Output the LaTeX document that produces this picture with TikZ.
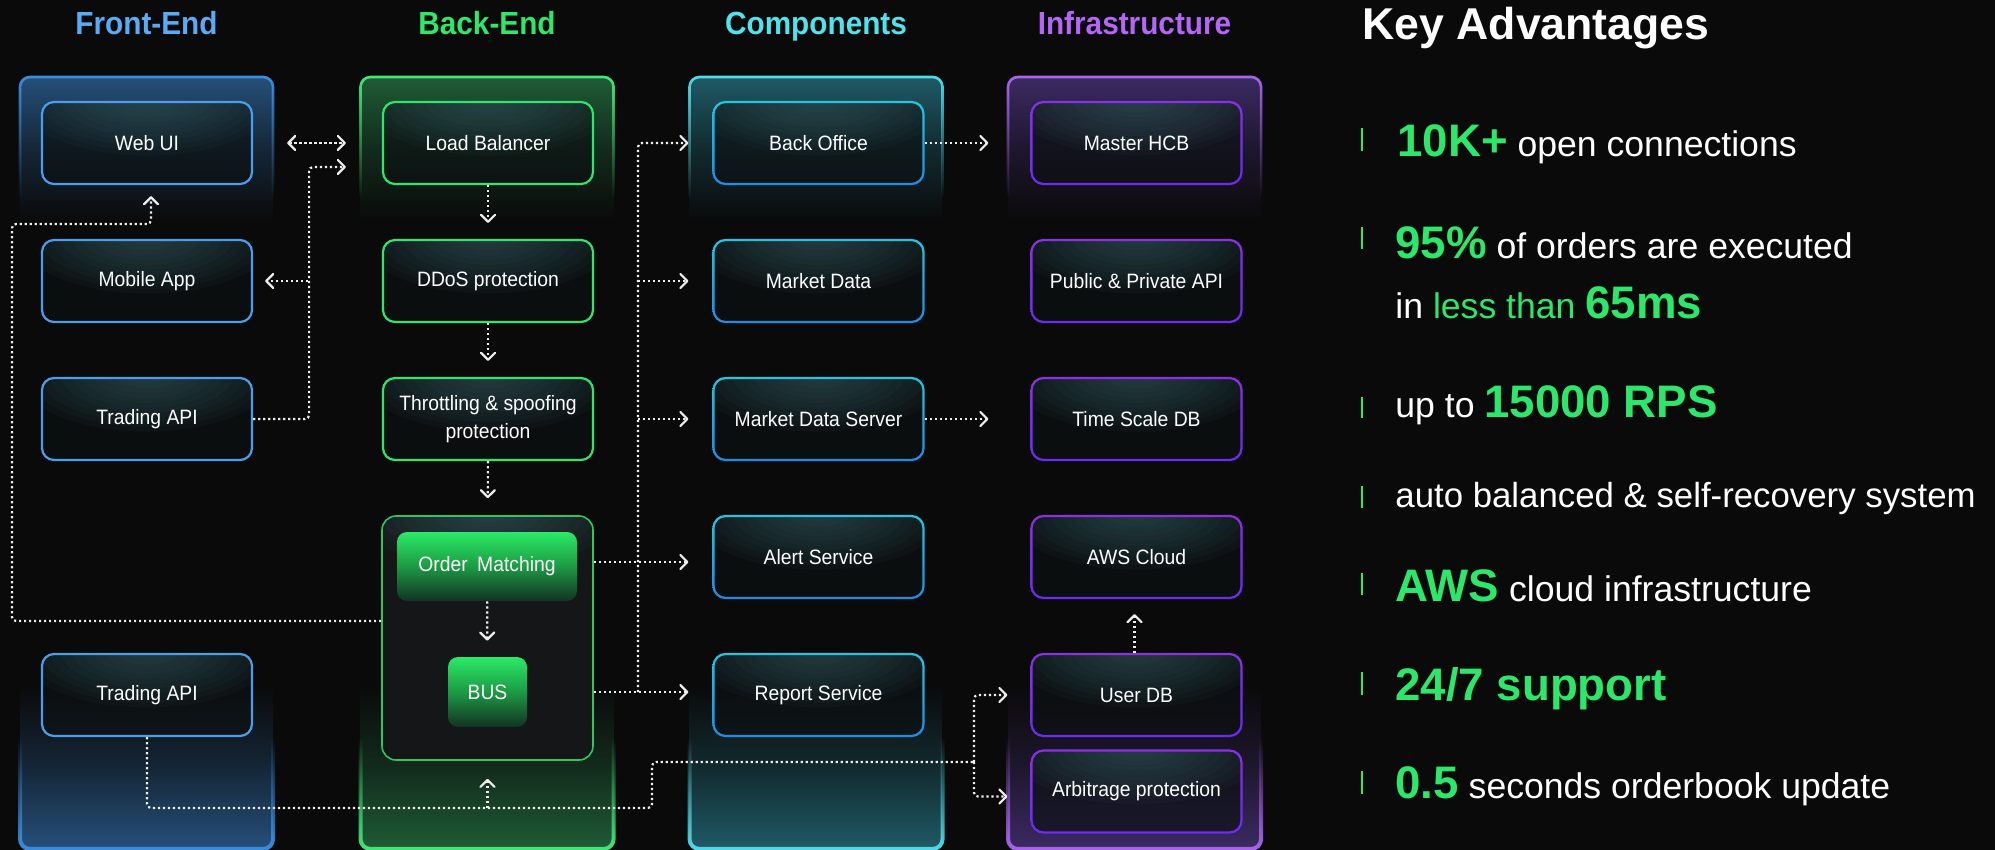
\documentclass[tikz,border=0pt]{standalone}
\usepackage{fontspec}
\setmainfont{Liberation Sans}
\newfontfamily\condfont{Liberation Sans}[FakeStretch=0.93]
\usetikzlibrary{arrows.meta,calc,fadings}
\definecolor{bg}{HTML}{0A0A0A}
\definecolor{gr}{HTML}{2CE86A}
\definecolor{boxfill}{HTML}{0C1113}
\definecolor{glowc}{HTML}{3A646A}
\definecolor{feT}{HTML}{5AABF5}
\definecolor{beT}{HTML}{2EE86A}
\definecolor{coT}{HTML}{4FE3EC}
\definecolor{inT}{HTML}{B565F7}
\definecolor{feB}{HTML}{4A9EEB}
\definecolor{beB}{HTML}{30E56C}
\definecolor{coBa}{HTML}{22C6E0}
\definecolor{coBb}{HTML}{1E8CE8}
\definecolor{inBa}{HTML}{8C2FE6}
\definecolor{inBb}{HTML}{6A2CF5}
\definecolor{feP}{HTML}{25507A}
\definecolor{feE}{HTML}{3C8EDE}
\definecolor{beP}{HTML}{1F5C36}
\definecolor{beE}{HTML}{44E87A}
\definecolor{coP}{HTML}{1F5A66}
\definecolor{coE}{HTML}{52DCEA}
\definecolor{inP}{HTML}{3B2A62}
\definecolor{inE}{HTML}{A966F0}
\definecolor{arrw}{HTML}{EDEDED}
\definecolor{omcfill}{HTML}{141617}
\definecolor{omb}{HTML}{28C95E}
\definecolor{ga}{HTML}{2BEA66}
\definecolor{gb}{HTML}{1C9A44}
\definecolor{gc}{HTML}{123222}
\tikzfading[name=fadedown, top color=transparent!0, bottom color=transparent!100]
\tikzfading[name=fadeup, top color=transparent!100, bottom color=transparent!0]
\newcommand\advbold[1]{{\color{gr}\fontsize{22.8}{27}\selectfont\bfseries #1}}
\newcommand\glowat[1]{\foreach \k in {1,...,12}{\fill[glowc, fill opacity=0.065] ([yshift=2pt]#1) ellipse ({\k*5.4pt} and {\k*2.4pt});}}
\begin{document}
\begin{tikzpicture}[x=0.5pt,y=-0.5pt,
  panel/.style={minimum width=126.5pt, minimum height=386pt, inner sep=0pt, outer sep=0pt,
    rounded corners=5pt, fill=bg},
  box/.style={minimum width=105pt, minimum height=41pt, inner sep=0pt, rounded corners=6pt,
    line width=1.1pt, fill=boxfill, fill opacity=0.65, text opacity=1, text=white,
    font=\condfont\fontsize{10.4}{14}\selectfont, align=center,
    path picture={\glowat{path picture bounding box.north}}},
  febox/.style={box, draw=feB},
  bebox/.style={box, draw=beB},
  title/.style={anchor=base, inner sep=0pt, font=\condfont\bfseries\fontsize{16}{19}\selectfont},
  conn/.style={draw=arrw, line width=1.1pt, dash pattern=on 1.1pt off 1.4pt, rounded corners=2pt},
  arr/.style={-{Straight Barb[length=3.5pt,width=7pt,round]}},
  gbox/.style={inner sep=0pt, rounded corners=5pt, top color=ga, bottom color=gc, middle color=gb,
    text=white, font=\condfont\fontsize{10.4}{14}\selectfont},
  adv/.style={anchor=base west, inner sep=0pt, text=white, font=\fontsize{17.8}{21}\selectfont},
  bar/.style={draw=gr, line width=1.2pt}
]
\fill[bg] (0,0) rectangle (1995,850);
\useasboundingbox (0,0) rectangle (1995,850);

% titles
\node[title, text=feT] (tfe) at (146.5,35) {Front-End};
\node[title, text=beT] (tbe) at (487,35) {Back-End};
\node[title, text=coT] (tco) at (816,35) {Components};
\node[title, text=inT] (tin) at (1134.5,35) {Infrastructure};

% panels
\node[panel] (fe) at (146.5,463) {};
\node[panel] (be) at (487,463) {};
\node[panel] (co) at (816,463) {};
\node[panel] (inf) at (1134.5,463) {};
\foreach \p/\pc/\ec in {fe/feP/feE, be/beP/beE, co/coP/coE, inf/inP/inE} {
  \begin{scope}
    \clip[rounded corners=5pt] (\p.south west) rectangle (\p.north east);
    \fill[top color=\pc, bottom color=bg, middle color=\pc!40!bg] (\p.north west) rectangle ([yshift=-72pt]\p.north east);
    \fill[top color=bg, bottom color=\pc, middle color=\pc!40!bg] ([yshift=82pt]\p.south west) rectangle (\p.south east);
  \end{scope}
  \draw[\ec, line width=1.3pt, rounded corners=5pt, path fading=fadedown]
    ([yshift=-60pt]\p.north west) -- (\p.north west) -- (\p.north east) -- ([yshift=-60pt]\p.north east);
  \draw[\ec, line width=2pt, rounded corners=5pt, path fading=fadeup]
    ([yshift=55pt]\p.south west) -- (\p.south west) -- (\p.south east) -- ([yshift=55pt]\p.south east);
}

% front-end
\node[febox] (webui) at (147,143) {Web UI};
\node[febox] (mobile) at (147,281) {Mobile App};
\node[febox] (tapi) at (147,419) {Trading API};
\node[febox] (tapi2) at (147,695) {Trading API};

% back-end
\node[bebox] (lb) at (488,143) {Load Balancer};
\node[bebox] (ddos) at (488,281) {DDoS protection};
\node[bebox] (thr) at (488,419) {Throttling \& spoofing\\protection};
\node[minimum width=105.5pt, minimum height=122pt, inner sep=0pt, rounded corners=7pt,
  draw=omb, line width=0.8pt, fill=omcfill,
  path picture={\glowat{path picture bounding box.north}}]
  (omc) at (487.5,638) {};
\node[gbox, minimum width=90pt, minimum height=34.5pt] (om) at (487,566.5) {Order\hspace{0.45em}Matching};
\node[gbox, minimum width=39.5pt, minimum height=35pt] (bus) at (487.5,692) {BUS};

% components
\node[box] (bo) at (818.5,143) {Back Office};
\node[box] (md) at (818.5,281) {Market Data};
\node[box] (mds) at (818.5,419) {Market Data Server};
\node[box] (alert) at (818.5,557) {Alert Service};
\node[box] (report) at (818.5,695) {Report Service};

% infrastructure
\node[box] (hcb) at (1136.5,143) {Master HCB};
\node[box] (api) at (1136.5,281) {Public \& Private API};
\node[box] (tsdb) at (1136.5,419) {Time Scale DB};
\node[box] (aws) at (1136.5,557) {AWS Cloud};
\node[box] (userdb) at (1136.5,695) {User DB};
\node[box] (arb) at (1136.5,791.5) {Arbitrage protection};

% gradient borders
\foreach \n in {bo,md,mds,alert,report} {
  \shade[top color=coBa, bottom color=coBb, even odd rule, rounded corners=6.5pt]
    (\n.south west) rectangle (\n.north east)
    [rounded corners=5.5pt] ([shift={(1.1pt,1.1pt)}]\n.south west) rectangle ([shift={(-1.1pt,-1.1pt)}]\n.north east);
}
\foreach \n in {hcb,api,tsdb,aws,userdb,arb} {
  \shade[top color=inBa, bottom color=inBb, even odd rule, rounded corners=6.5pt]
    (\n.south west) rectangle (\n.north east)
    [rounded corners=5.5pt] ([shift={(1.1pt,1.1pt)}]\n.south west) rectangle ([shift={(-1.1pt,-1.1pt)}]\n.north east);
}

% connectors
\draw[conn, {Straight Barb[length=3.5pt,width=7pt,round]}-{Straight Barb[length=3.5pt,width=7pt,round]},
  shorten <=17pt, shorten >=18pt] (webui) -- (lb);
\draw[conn, arr] (tapi.east) -- ++(28pt,0) |- ([shift={(-18pt,-12pt)}]lb.west);
\coordinate (jm) at (308,281);
\draw[conn, arr, shorten >=6pt] (jm) -- (mobile.east);
\draw[conn, arr] ([yshift=8.5pt]omc.west) -| (12,224) -| ([shift={(2pt,-5.5pt)}]webui.south);
\draw[conn, arr, shorten >=8pt] (lb) -- (ddos);
\draw[conn, arr, shorten >=8pt] (ddos) -- (thr);
\draw[conn, arr, shorten >=8.5pt] (thr) -- (omc);
\draw[conn, arr, shorten >=8pt] (om) -- (bus);

\draw[conn, arr, shorten >=12pt] (omc.east |- bus.east) -- (report.west |- bus.east);
\coordinate (jb) at (638,692);
\draw[conn, arr] (jb) |- ([xshift=-12pt]bo.west);
\draw[conn, arr, shorten >=12pt] (jb |- md.west) -- (md.west);
\draw[conn, arr, shorten >=12pt] (jb |- mds.west) -- (mds.west);
\draw[conn, arr, shorten >=12pt] ($(omc.east |- alert.west)+(0,5)$) -- ($(alert.west)+(0,5)$);

\draw[conn, arr, shorten >=21pt] (bo) -- (hcb);
\draw[conn, arr, shorten >=21pt] (mds) -- (tsdb);
\draw[conn, arr, shorten >=7.5pt] ([xshift=-1pt]userdb.north) -- ([xshift=-1pt]aws.south);

\coordinate (ju) at (974,762);
\coordinate (jo) at (487.5,808);
\draw[conn] (tapi2.south) |- (652,808) |- (ju);
\draw[conn, arr] (ju) |- ([xshift=-11.5pt]userdb.west);
\draw[conn, arr] (ju) |- ([shift={(-11.5pt,-2.5pt)}]arb.west);
\draw[conn, arr, shorten >=9pt] (jo) -- (omc.south);

% key advantages
\node[anchor=base west, inner sep=0pt, text=white, font=\fontsize{22.3}{27}\selectfont\bfseries] (kadv) at (1362,40) {Key Advantages};
\node[adv] (a1) at (1397,157) {\advbold{10K+} open connections};
\node[adv] (a2) at (1395,258) {\advbold{95\%} of orders are executed};
\node[adv] (a2b) at (1395,318) {in {\color{gr}less than} \advbold{65ms}};
\node[adv] (a3) at (1395,417) {up to \advbold{15000 RPS}};
\node[adv, font=\fontsize{17.4}{21}\selectfont] (a4) at (1395,507) {auto balanced \& self-recovery system};
\node[adv] (a5) at (1395,601) {\advbold{AWS} cloud infrastructure};
\node[adv] (a6) at (1395,700) {\advbold{24/7 support}};
\node[adv] (a7) at (1395,798) {\advbold{0.5} seconds orderbook update};
\foreach \ya/\yb in {128/151, 227/249, 397/418, 486/508, 573/595, 672/695, 771/794}
  \draw[bar] (1362,\ya) -- (1362,\yb);
\end{tikzpicture}
\end{document}
